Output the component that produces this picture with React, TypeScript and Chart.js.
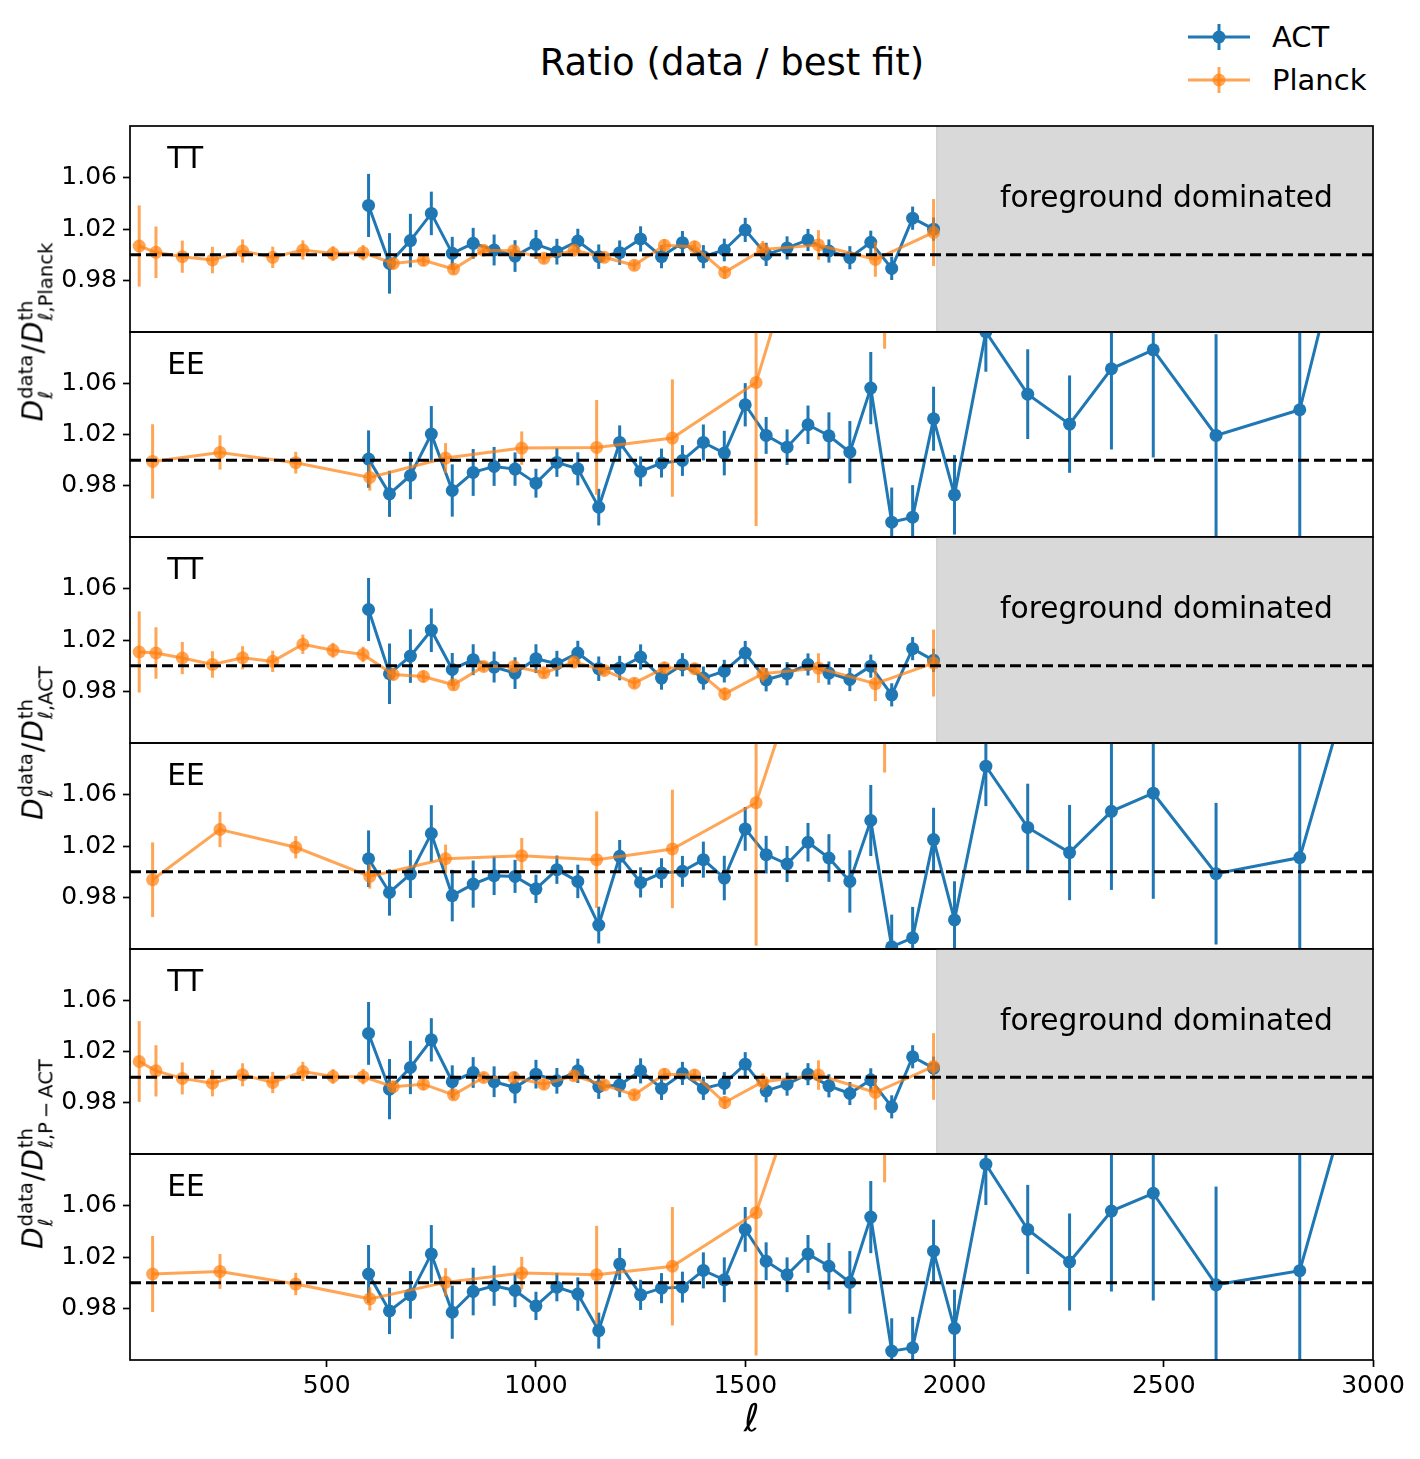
import React, { useEffect, useRef } from 'react';
import { Chart, registerables } from 'chart.js';

Chart.register(...registerables);

const FONT = '"DejaVu Sans", Verdana, sans-serif';
const BLUE = '#1f77b4';
const ORANGE = 'rgba(255,127,14,0.7)';

// --- multipole bins ---
const actEllTT = [600, 650, 700, 750, 800, 850, 900, 950, 1000, 1050, 1100, 1150, 1200, 1250, 1300, 1350, 1400, 1450, 1500, 1550, 1600, 1650, 1700, 1750, 1800, 1850, 1900, 1950];
const actEllEE = [600, 650, 700, 750, 800, 850, 900, 950, 1000, 1050, 1100, 1150, 1200, 1250, 1300, 1350, 1400, 1450, 1500, 1550, 1600, 1650, 1700, 1750, 1800, 1850, 1900, 1950, 2000, 2075, 2175, 2275, 2375, 2475, 2625, 2825, 3100];
const planckEllTT = [52, 92, 155, 227, 299, 371, 443, 515, 587, 659, 731, 803, 875, 947, 1019, 1091, 1163, 1235, 1307, 1379, 1451, 1542, 1675, 1811, 1950];
const planckEllEE = [84, 245, 426, 603, 784, 966, 1145, 1326, 1526, 1833];

// --- error bars ---
const actTTErr = [0.0245, 0.0235, 0.0208, 0.0169, 0.0128, 0.012, 0.012, 0.0123, 0.0112, 0.01, 0.0095, 0.0095, 0.0095, 0.0098, 0.009, 0.009, 0.009, 0.0088, 0.0094, 0.009, 0.009, 0.0086, 0.009, 0.009, 0.009, 0.009, 0.009, 0.009];
const planckTTErr = [0.0315, 0.02, 0.0125, 0.0103, 0.009, 0.0083, 0.0075, 0.0058, 0.006, 0.0045, 0.0045, 0.004, 0.004, 0.004, 0.004, 0.004, 0.004, 0.004, 0.0045, 0.0045, 0.005, 0.0065, 0.0115, 0.0135, 0.026];

// --- ratio to Planck best fit ---
const actTT_P = [1.0383, 0.9933, 1.011, 1.0321, 1.0011, 1.0089, 1.0037, 0.999, 1.0081, 1.0024, 1.0107, 0.9985, 1.0016, 1.0123, 0.9985, 1.0094, 0.9985, 1.0037, 1.0193, 1.0003, 1.0053, 1.0115, 1.0029, 0.9977, 1.0097, 0.9894, 1.0284, 1.0199];
const planckTT_P = [1.0068, 1.0019, 0.9985, 0.9959, 1.0029, 0.998, 1.0037, 1.0009, 1.0016, 0.9933, 0.9957, 0.9889, 1.0035, 1.0032, 0.9972, 1.0035, 0.998, 0.9918, 1.0074, 1.0063, 0.9863, 1.0042, 1.0076, 0.9964, 1.0173];
const actEE_P = [1.0008, 0.9737, 0.988, 1.0203, 0.9763, 0.9904, 0.9951, 0.993, 0.982, 0.9982, 0.9932, 0.9633, 1.0138, 0.9912, 0.9977, 0.9997, 1.0138, 1.0055, 1.0432, 1.0193, 1.0101, 1.0276, 1.019, 1.0062, 1.0562, 0.9516, 0.9555, 1.0323, 0.9729, 1.1, 1.0515, 1.0281, 1.0713, 1.0861, 1.0193, 1.0393, 1.4];
const actEE_PErr = [0.0224, 0.018, 0.0185, 0.0219, 0.0204, 0.0183, 0.0152, 0.013, 0.0113, 0.0113, 0.0129, 0.0143, 0.0133, 0.0117, 0.0113, 0.012, 0.014, 0.0174, 0.0169, 0.0144, 0.0139, 0.015, 0.0183, 0.0243, 0.0282, 0.027, 0.025, 0.025, 0.031, 0.031, 0.035, 0.038, 0.063, 0.084, 0.079, 0.11, 0.3];
const planckEE_P = [0.999, 1.006, 0.998, 0.9865, 1.0016, 1.0094, 1.0099, 1.0172, 1.0606, 1.39];
const planckEE_PErr = [0.029, 0.0134, 0.0085, 0.0103, 0.0117, 0.013, 0.037, 0.0458, 0.112, 0.303];

// --- ratio to ACT best fit ---
const actTT_A = [1.0437, 0.9938, 1.0075, 1.0276, 0.9971, 1.0047, 0.999, 0.9943, 1.0055, 1.0016, 1.0099, 0.9977, 0.9982, 1.0068, 0.9904, 1.0008, 0.9904, 0.9958, 1.0099, 0.9891, 0.9938, 1.001, 0.9943, 0.9893, 0.9997, 0.9774, 1.0133, 1.0042];
const planckTT_A = [1.0107, 1.0099, 1.006, 1.001, 1.0062, 1.0034, 1.0167, 1.012, 1.0088, 0.9932, 0.9917, 0.9852, 0.9995, 0.9995, 0.9945, 1.0029, 0.9964, 0.9865, 0.9984, 0.9977, 0.9781, 0.9938, 0.9982, 0.986, 1.0021];
const actEE_A = [1.0101, 0.9839, 0.9982, 1.0297, 0.9815, 0.9904, 0.9969, 0.9964, 0.9867, 1.0016, 0.9925, 0.9586, 1.012, 0.9917, 0.999, 1.0003, 1.0094, 0.9951, 1.0333, 1.0133, 1.006, 1.0229, 1.0107, 0.9925, 1.0398, 0.9417, 0.9487, 1.025, 0.9626, 1.082, 1.0344, 1.0149, 1.0469, 1.061, 0.9985, 1.011, 1.32];
const actEE_AErr = [0.022, 0.018, 0.0186, 0.022, 0.02, 0.0183, 0.015, 0.0128, 0.011, 0.011, 0.013, 0.0143, 0.0127, 0.0117, 0.0115, 0.012, 0.014, 0.0173, 0.017, 0.0146, 0.014, 0.015, 0.0185, 0.0242, 0.0276, 0.025, 0.024, 0.0247, 0.03, 0.031, 0.034, 0.037, 0.061, 0.082, 0.055, 0.11, 0.3];
const planckEE_A = [0.9938, 1.0328, 1.019, 0.9964, 1.0101, 1.0125, 1.0094, 1.0177, 1.0536, 1.356];
const planckEE_AErr = [0.029, 0.0137, 0.0087, 0.0095, 0.011, 0.0137, 0.0375, 0.046, 0.111, 0.279];

// --- ratio to P-ACT best fit ---
const actTT_PA = [1.0341, 0.9906, 1.0075, 1.0291, 0.9964, 1.0036, 0.9964, 0.9919, 1.0023, 0.9971, 1.0049, 0.9925, 0.9938, 1.0049, 0.9912, 1.0029, 0.9912, 0.9951, 1.0101, 0.9893, 0.9945, 1.0023, 0.9932, 0.9872, 0.9979, 0.9768, 1.0159, 1.007];
const planckTT_PA = [1.0122, 1.0049, 0.999, 0.9953, 1.0018, 0.9958, 1.0044, 1.0005, 1.0003, 0.9925, 0.9945, 0.9862, 0.9997, 0.9997, 0.9945, 1.001, 0.9938, 0.9862, 1.0023, 1.0016, 0.9802, 0.9964, 1.0016, 0.988, 1.0083];
const actEE_PA = [1.0068, 0.9781, 0.9906, 1.0224, 0.9771, 0.9932, 0.9977, 0.994, 0.982, 0.9966, 0.9912, 0.9628, 1.0146, 0.9906, 0.9958, 0.9966, 1.0096, 1.0023, 1.0414, 1.0167, 1.0062, 1.0224, 1.0128, 1.0003, 1.051, 0.9469, 0.9495, 1.0245, 0.9646, 1.0921, 1.0414, 1.0161, 1.0557, 1.0695, 0.9984, 1.0094, 1.325];
const actEE_PAErr = [0.0225, 0.018, 0.0185, 0.0224, 0.0206, 0.0185, 0.0156, 0.013, 0.011, 0.011, 0.013, 0.014, 0.0124, 0.0117, 0.0117, 0.012, 0.014, 0.0174, 0.0174, 0.0147, 0.0135, 0.0147, 0.0182, 0.0243, 0.028, 0.0255, 0.024, 0.0245, 0.03, 0.0317, 0.0346, 0.0377, 0.0625, 0.0833, 0.0763, 0.11, 0.3];
const planckEE_PA = [1.0068, 1.0088, 0.999, 0.9875, 1.0003, 1.0075, 1.0062, 1.0128, 1.0544, 1.348];
const planckEE_PAErr = [0.0295, 0.0135, 0.0087, 0.009, 0.011, 0.0126, 0.038, 0.046, 0.111, 0.27];

const yTicks = [0.98, 1.02, 1.06];
const xTicks = [500, 1000, 1500, 2000, 2500, 3000];
const fgStart = 1958;

const panels = [
  { label: 'TT', shade: true, actEll: actEllTT, act: actTT_P, actErr: actTTErr, plEll: planckEllTT, pl: planckTT_P, plErr: planckTTErr },
  { label: 'EE', shade: false, actEll: actEllEE, act: actEE_P, actErr: actEE_PErr, plEll: planckEllEE, pl: planckEE_P, plErr: planckEE_PErr },
  { label: 'TT', shade: true, actEll: actEllTT, act: actTT_A, actErr: actTTErr, plEll: planckEllTT, pl: planckTT_A, plErr: planckTTErr },
  { label: 'EE', shade: false, actEll: actEllEE, act: actEE_A, actErr: actEE_AErr, plEll: planckEllEE, pl: planckEE_A, plErr: planckEE_AErr },
  { label: 'TT', shade: true, actEll: actEllTT, act: actTT_PA, actErr: actTTErr, plEll: planckEllTT, pl: planckTT_PA, plErr: planckTTErr },
  { label: 'EE', shade: false, actEll: actEllEE, act: actEE_PA, actErr: actEE_PAErr, plEll: planckEllEE, pl: planckEE_PA, plErr: planckEE_PAErr },
];

const TOP = 126;
const BOTTOM = 1360;
const PAD = 4;
const XAXIS_H = 90;
const W = 1420;
const RIGHT = 1373;

// error bars drawn just before each dataset's own line and markers
const errorBars = {
  id: 'errorBars',
  beforeDatasetDraw(chart: any, args: any) {
    const ds = chart.data.datasets[args.index];
    if (!ds.errors) return;
    const { ctx, chartArea: a } = chart;
    const x = chart.scales.x;
    const y = chart.scales.y;
    ctx.save();
    ctx.beginPath();
    ctx.rect(a.left, a.top, a.right - a.left, a.bottom - a.top);
    ctx.clip();
    ctx.strokeStyle = ds.borderColor;
    ctx.lineWidth = ds.borderWidth;
    ds.data.forEach((p: any, i: number) => {
      const px = x.getPixelForValue(p.x);
      ctx.beginPath();
      ctx.moveTo(px, y.getPixelForValue(p.y - ds.errors[i]));
      ctx.lineTo(px, y.getPixelForValue(p.y + ds.errors[i]));
      ctx.stroke();
    });
    ctx.restore();
  },
};

const panelDeco = {
  id: 'panelDeco',
  beforeDatasetsDraw(chart: any, _args: any, opts: any) {
    if (!opts.shade) return;
    const { ctx, chartArea: a } = chart;
    const x0 = chart.scales.x.getPixelForValue(fgStart);
    ctx.save();
    ctx.fillStyle = '#d9d9d9';
    ctx.fillRect(x0, a.top, a.right - x0, a.bottom - a.top);
    ctx.strokeStyle = '#cccccc';
    ctx.lineWidth = 1.5;
    ctx.beginPath();
    ctx.moveTo(x0, a.top);
    ctx.lineTo(x0, a.bottom);
    ctx.stroke();
    ctx.restore();
  },
  afterDatasetsDraw(chart: any, _args: any, opts: any) {
    const { ctx, chartArea: a } = chart;
    const w = a.right - a.left;
    const h = a.bottom - a.top;
    const y1 = chart.scales.y.getPixelForValue(1);
    ctx.save();
    ctx.strokeStyle = '#000';
    ctx.lineWidth = 3;
    ctx.setLineDash([11, 5]);
    ctx.beginPath();
    ctx.moveTo(a.left, y1);
    ctx.lineTo(a.right, y1);
    ctx.stroke();
    ctx.setLineDash([]);
    ctx.lineWidth = 1.7;
    ctx.strokeRect(a.left, a.top, w, h);
    ctx.fillStyle = '#000';
    ctx.textBaseline = 'alphabetic';
    ctx.textAlign = 'left';
    ctx.font = `29.7px ${FONT}`;
    ctx.fillText(opts.label, a.left + 0.03 * w, a.top + 0.204 * h);
    if (opts.shade) ctx.fillText('foreground dominated', a.left + 0.7 * w, a.top + 0.394 * h);
    ctx.restore();
  },
};

function Panel({ idx }: { idx: number }) {
  const ref = useRef<HTMLCanvasElement>(null);
  const p = panels[idx];
  const ph = (BOTTOM - TOP) / panels.length;
  const top = Math.round(TOP + idx * ph);
  const bot = Math.round(TOP + (idx + 1) * ph);
  const isBottom = idx === panels.length - 1;
  const height = bot - top + PAD + (isBottom ? XAXIS_H : PAD);

  useEffect(() => {
    if (!ref.current) return;
    const tickFont = { family: FONT, size: 25 };
    const chart = new Chart(ref.current, {
      type: 'line',
      data: {
        datasets: [
          {
            label: 'Planck',
            data: p.plEll.map((x, i) => ({ x, y: p.pl[i] })),
            errors: p.plErr,
            borderColor: ORANGE,
            backgroundColor: ORANGE,
            pointBackgroundColor: ORANGE,
            pointBorderWidth: 0,
            pointRadius: 6.5,
            borderWidth: 3,
            clip: 0,
          } as any,
          {
            label: 'ACT',
            data: p.actEll.map((x, i) => ({ x, y: p.act[i] })),
            errors: p.actErr,
            borderColor: BLUE,
            backgroundColor: BLUE,
            pointBackgroundColor: BLUE,
            pointBorderWidth: 0,
            pointRadius: 6.5,
            borderWidth: 3,
            clip: 0,
          } as any,
        ],
      },
      options: {
        animation: false,
        responsive: true,
        maintainAspectRatio: false,
        layout: { autoPadding: false, padding: { top: PAD, bottom: isBottom ? 0 : PAD, left: 0, right: W - RIGHT } },
        plugins: {
          legend: { display: false },
          tooltip: { enabled: false },
          panelDeco: { label: p.label, shade: p.shade },
        } as any,
        scales: {
          x: {
            type: 'linear',
            min: 30,
            max: 3000,
            display: isBottom,
            afterBuildTicks: (s: any) => { s.ticks = xTicks.map((v) => ({ value: v })); },
            afterFit: (s: any) => {
              s.height = isBottom ? XAXIS_H : 0;
              s.paddingLeft = 0;
              s.paddingRight = 0;
            },
            grid: { drawOnChartArea: false, drawTicks: true, tickLength: 7, tickWidth: 1.7, tickColor: '#000' },
            border: { display: false },
            ticks: { color: '#000', font: tickFont, padding: 4, maxRotation: 0, autoSkip: false, callback: (v: any) => String(v) },
            title: { display: true, text: 'ℓ', color: '#000', font: { family: FONT, size: 38, style: 'italic' }, padding: { top: 0, bottom: 6 } },
          },
          y: {
            type: 'linear',
            min: 0.94,
            max: 1.1,
            afterBuildTicks: (s: any) => { s.ticks = yTicks.map((v) => ({ value: v })); },
            afterFit: (s: any) => {
              s.width = 130;
              s.paddingTop = 0;
              s.paddingBottom = 0;
            },
            grid: { drawOnChartArea: false, drawTicks: true, tickLength: 7, tickWidth: 1.7, tickColor: '#000' },
            border: { display: false },
            ticks: { color: '#000', font: tickFont, padding: 6, callback: (v: any) => Number(v).toFixed(2) },
          },
        },
      },
      plugins: [errorBars, panelDeco],
    });
    return () => chart.destroy();
  }, [idx]);

  return (
    <div style={{ position: 'absolute', left: 0, top: top - PAD, width: W, height }}>
      <canvas ref={ref} />
    </div>
  );
}

function Scripts({ sup, sub }: { sup: React.ReactNode; sub: React.ReactNode }) {
  return (
    <span style={{ display: 'inline-flex', flexDirection: 'column', fontSize: '0.7em', lineHeight: 1, verticalAlign: '0.5em', marginLeft: 1 }}>
      <span>{sup}</span>
      <span>{sub}</span>
    </span>
  );
}

function YLabel({ which, cy }: { which: string; cy: number }) {
  return (
    <div
      style={{
        position: 'absolute', left: 36, top: cy, transform: 'translate(-50%, -50%) rotate(-90deg)',
        whiteSpace: 'nowrap', fontSize: 28, fontFamily: FONT, color: '#000', lineHeight: 1,
      }}
    >
      <i>D</i>
      <Scripts sup="data" sub={<i>ℓ</i>} />
      <span style={{ margin: '0 1px' }}>/</span>
      <i>D</i>
      <Scripts sup="th" sub={<><i>ℓ</i>,{which}</>} />
    </div>
  );
}

function LegendRow({ y, color, label }: { y: number; color: string; label: string }) {
  return (
    <>
      <svg style={{ position: 'absolute', left: 1184, top: y - 15 }} width={70} height={30}>
        <line x1={4} y1={15} x2={66} y2={15} stroke={color} strokeWidth={3} />
        <line x1={35} y1={2} x2={35} y2={28} stroke={color} strokeWidth={3} />
        <circle cx={35} cy={15} r={6.5} fill={color} />
      </svg>
      <div style={{ position: 'absolute', left: 1272, top: y, transform: 'translateY(-50%)', fontSize: 29, fontFamily: FONT, lineHeight: 1 }}>{label}</div>
    </>
  );
}

export default function App() {
  const ph = (BOTTOM - TOP) / panels.length;
  return (
    <div style={{ position: 'relative', width: 1420, height: 1459, background: '#fff', fontFamily: FONT, overflow: 'hidden' }}>
      <style>{'body{margin:0}'}</style>
      <div style={{ position: 'absolute', left: 732, top: 62, transform: 'translate(-50%, -50%)', fontSize: 37, whiteSpace: 'nowrap', lineHeight: 1 }}>
        Ratio (data / best fit)
      </div>
      <LegendRow y={37} color={BLUE} label="ACT" />
      <LegendRow y={80} color={ORANGE} label="Planck" />
      {panels.map((_, i) => (
        <Panel key={i} idx={i} />
      ))}
      <YLabel which="Planck" cy={TOP + ph} />
      <YLabel which="ACT" cy={TOP + 3 * ph} />
      <YLabel which={'P\u2009\u2212\u2009ACT'} cy={TOP + 5 * ph} />
    </div>
  );
}
